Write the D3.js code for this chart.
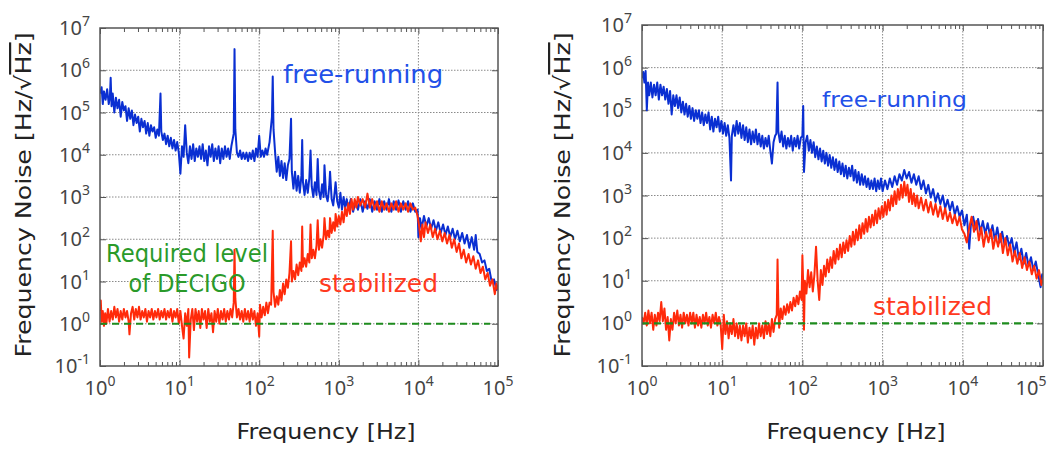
<!DOCTYPE html>
<html>
<head>
<meta charset="utf-8">
<script src="https://cdn.jsdelivr.net/npm/d3@7"></script>
<style>
body{margin:0;background:#fff}
svg{font-family:"DejaVu Sans",sans-serif}
</style>
</head>
<body>
<svg width="1051" height="450"></svg>
<script>
// values, as [log10 f (Hz), log10 noise (Hz/rtHz)]
const leftFree = [[0,5.45],[0.02,5.6],[0.035,5.2],[0.05,5.5],[0.07,5.3],[0.09,5.55],[0.11,5.2],[0.125,5.4],[0.134,5.82],[0.145,5.15],[0.16,5.45],[0.18,5.0],[0.2,5.35],[0.22,5.1],[0.24,5.3],[0.26,4.9],[0.28,5.25],[0.3,5.05],[0.32,5.15],[0.34,4.8],[0.36,5.1],[0.38,4.85],[0.4,5.05],[0.42,4.7],[0.44,4.95],[0.46,4.75],[0.48,4.9],[0.5,4.55],[0.52,4.85],[0.54,4.65],[0.56,4.8],[0.58,4.5],[0.6,4.75],[0.62,4.45],[0.64,4.7],[0.66,4.55],[0.68,4.65],[0.7,4.4],[0.72,4.6],[0.74,4.45],[0.76,5.45],[0.77,4.55],[0.79,4.35],[0.81,4.5],[0.83,4.25],[0.85,4.45],[0.87,4.2],[0.89,4.4],[0.91,4.15],[0.93,4.35],[0.95,4.1],[0.97,4.3],[0.99,4.05],[1.01,3.55],[1.03,4.2],[1.05,3.95],[1.07,4.7],[1.09,4.05],[1.11,3.8],[1.13,4.2],[1.15,3.9],[1.17,4.25],[1.19,3.85],[1.21,4.15],[1.23,3.95],[1.25,4.2],[1.27,3.9],[1.29,4.25],[1.31,3.85],[1.33,4.1],[1.35,3.75],[1.37,4.2],[1.39,3.95],[1.41,4.25],[1.43,3.85],[1.45,4.15],[1.47,3.9],[1.49,4.2],[1.51,3.8],[1.53,4.15],[1.55,3.9],[1.57,4.2],[1.59,3.95],[1.61,4.15],[1.63,3.9],[1.65,4.2],[1.68,4.5],[1.69,6.5],[1.7,4.6],[1.72,4.05],[1.74,3.95],[1.76,4.1],[1.78,3.9],[1.8,4.05],[1.82,3.9],[1.84,4.05],[1.86,3.85],[1.88,4.05],[1.9,3.9],[1.92,4.1],[1.94,3.85],[1.96,4.15],[1.98,3.95],[2,4.45],[2.02,3.95],[2.04,4.1],[2.06,3.95],[2.08,4.15],[2.1,4],[2.13,4.3],[2.16,4.9],[2.17,5.85],[2.18,4.6],[2.2,4.05],[2.22,3.6],[2.24,3.95],[2.26,3.5],[2.28,3.85],[2.3,3.45],[2.32,3.8],[2.34,3.4],[2.36,3.75],[2.38,3.9],[2.4,4.85],[2.41,3.6],[2.43,3.2],[2.45,3.6],[2.47,3.15],[2.49,3.5],[2.51,3.1],[2.53,3.5],[2.54,4.35],[2.55,3.35],[2.57,3.05],[2.59,3.4],[2.61,3.1],[2.63,3.45],[2.645,4.1],[2.66,3.25],[2.68,3.0],[2.7,3.35],[2.72,3.05],[2.735,3.9],[2.75,3.15],[2.77,2.95],[2.79,3.3],[2.81,3.0],[2.82,3.75],[2.84,3.05],[2.86,2.9],[2.88,3.25],[2.89,3.6],[2.91,2.95],[2.93,2.8],[2.95,3.15],[2.96,3.35],[2.98,2.9],[3,2.75],[3.02,3.1],[3.04,2.7],[3.06,3.0],[3.08,2.75],[3.1,2.95],[3.12,2.7],[3.15,2.95],[3.18,2.65],[3.21,2.9],[3.24,2.7],[3.27,2.95],[3.3,2.65],[3.33,2.9],[3.36,2.72],[3.39,2.95],[3.42,2.65],[3.45,2.9],[3.48,2.7],[3.51,2.95],[3.54,2.65],[3.57,2.9],[3.6,2.7],[3.63,2.95],[3.66,2.65],[3.69,2.9],[3.72,2.7],[3.75,2.92],[3.78,2.65],[3.81,2.9],[3.84,2.7],[3.87,2.9],[3.9,2.65],[3.93,2.85],[3.96,2.65],[3.99,2.7],[4,2.05],[4.02,2.5],[4.04,2.25],[4.07,2.55],[4.1,2.3],[4.13,2.5],[4.16,2.25],[4.19,2.45],[4.22,2.2],[4.25,2.4],[4.28,2.15],[4.31,2.35],[4.34,2.1],[4.37,2.3],[4.4,2.05],[4.43,2.25],[4.46,2.0],[4.49,2.2],[4.52,1.95],[4.55,2.15],[4.58,1.9],[4.61,2.1],[4.64,1.8],[4.67,2.05],[4.7,1.75],[4.72,2.1],[4.74,1.7],[4.77,1.65],[4.8,1.45],[4.83,1.5],[4.86,1.25],[4.89,1.3],[4.92,1.0],[4.95,1.05],[4.98,0.8],[5,0.9]];

const leftStab = [[0,0.3],[0.01,0.55],[0.02,0.05],[0.035,0.3],[0.05,-0.05],[0.065,0.25],[0.08,0],[0.1,0.35],[0.12,0.05],[0.14,0.3],[0.16,0.1],[0.18,0.4],[0.2,0.15],[0.22,0.35],[0.24,0.05],[0.26,0.3],[0.28,0.1],[0.3,0.35],[0.32,0.15],[0.34,0.3],[0.36,0.05],[0.37,-0.25],[0.39,0.25],[0.41,0.4],[0.43,0.1],[0.45,0.35],[0.47,0.15],[0.49,0.4],[0.51,0.1],[0.53,0.3],[0.55,0.15],[0.57,0.35],[0.59,0.05],[0.61,0.3],[0.63,0.15],[0.65,0.35],[0.67,0.1],[0.69,0.3],[0.71,0.15],[0.73,0.35],[0.75,0.1],[0.77,0.3],[0.79,0.15],[0.81,0.35],[0.83,0.1],[0.85,0.3],[0.87,0.15],[0.89,0.35],[0.91,0.05],[0.93,0.3],[0.95,0.15],[0.97,0.35],[0.99,0],[1.01,0.3],[1.03,-0.05],[1.05,-0.35],[1.07,0.25],[1.09,-0.05],[1.11,0.35],[1.12,-0.8],[1.14,0.1],[1.16,0.35],[1.18,-0.15],[1.2,0.35],[1.22,0.05],[1.24,0.3],[1.26,-0.1],[1.28,0.35],[1.3,0.1],[1.32,0.3],[1.34,-0.1],[1.36,0.35],[1.38,0.05],[1.4,0.25],[1.42,-0.2],[1.44,0.3],[1.46,0.05],[1.48,0.35],[1.5,0],[1.52,0.3],[1.54,0.1],[1.56,0.35],[1.58,0.05],[1.6,0.3],[1.62,0.1],[1.64,0.35],[1.66,0.15],[1.68,0.5],[1.69,1.75],[1.7,0.6],[1.72,0.15],[1.74,0.35],[1.76,0.1],[1.78,0.3],[1.8,0.05],[1.82,0.35],[1.84,0.1],[1.86,0.3],[1.88,0.05],[1.9,0.35],[1.92,0.1],[1.94,0.3],[1.96,-0.05],[1.98,0.25],[2,-0.3],[2.01,0.45],[2.03,0.15],[2.05,0.4],[2.07,0.2],[2.09,0.5],[2.11,0.25],[2.13,0.5],[2.15,0.45],[2.17,2.2],[2.18,0.75],[2.2,0.4],[2.22,0.65],[2.24,0.45],[2.26,0.8],[2.28,0.55],[2.3,0.95],[2.32,0.7],[2.34,1.05],[2.36,0.85],[2.38,1.2],[2.4,1.95],[2.41,1],[2.43,1.25],[2.45,1.05],[2.47,1.4],[2.49,1.15],[2.51,1.45],[2.53,1.25],[2.54,2.3],[2.55,1.35],[2.57,1.55],[2.59,1.35],[2.61,1.65],[2.63,1.45],[2.645,2.35],[2.66,1.55],[2.68,1.75],[2.7,1.55],[2.72,1.85],[2.735,2.45],[2.75,1.75],[2.77,2],[2.79,1.8],[2.81,2.1],[2.82,2.5],[2.84,2],[2.86,2.2],[2.88,2.05],[2.89,2.5],[2.91,2.15],[2.93,2.4],[2.95,2.2],[2.96,2.6],[2.98,2.3],[3,2.55],[3.02,2.35],[3.04,2.65],[3.06,2.4],[3.08,2.75],[3.1,2.55],[3.12,2.85],[3.14,2.6],[3.16,2.95],[3.18,2.7],[3.2,2.95],[3.22,2.75],[3.24,3],[3.27,2.8],[3.3,2.95],[3.33,2.75],[3.36,3.08],[3.39,2.75],[3.42,2.95],[3.45,2.7],[3.48,2.9],[3.51,2.65],[3.54,2.9],[3.57,2.7],[3.6,2.85],[3.63,2.65],[3.66,2.85],[3.69,2.7],[3.72,2.9],[3.75,2.65],[3.78,2.85],[3.81,2.7],[3.84,2.85],[3.87,2.65],[3.9,2.85],[3.93,2.7],[3.96,2.75],[3.99,2.55],[4.01,2.3],[4.03,1.95],[4.05,2.35],[4.07,2.05],[4.09,2.4],[4.12,2.15],[4.15,2.35],[4.18,2.05],[4.21,2.25],[4.24,2],[4.27,2.2],[4.3,1.95],[4.33,2.15],[4.36,1.9],[4.39,2.1],[4.42,1.8],[4.45,2],[4.48,1.7],[4.51,1.9],[4.54,1.55],[4.57,1.75],[4.6,1.45],[4.63,1.65],[4.66,1.4],[4.69,1.6],[4.72,1.3],[4.75,1.5],[4.78,1.2],[4.81,1.35],[4.84,1.05],[4.87,1.2],[4.9,0.9],[4.93,1.05],[4.96,0.7],[4.98,0.95],[5,0.8]];

const rightFree = [[0,5.75],[0.015,5.9],[0.03,5.65],[0.045,5.92],[0.06,5],[0.075,5.65],[0.09,5.35],[0.11,5.65],[0.13,5.3],[0.15,5.6],[0.17,5.35],[0.19,5.65],[0.21,5.25],[0.23,5.6],[0.25,5.35],[0.27,5.55],[0.29,5.25],[0.31,5.5],[0.33,5.15],[0.35,5.45],[0.37,4.9],[0.39,5.35],[0.41,5.1],[0.43,5.35],[0.45,5.05],[0.47,5.3],[0.49,4.95],[0.51,5.2],[0.53,4.9],[0.55,5.15],[0.57,4.85],[0.59,5.1],[0.61,4.8],[0.63,5.05],[0.65,4.75],[0.67,5],[0.69,4.8],[0.71,5],[0.73,4.7],[0.75,4.95],[0.77,4.65],[0.79,4.9],[0.81,4.7],[0.83,4.95],[0.85,4.55],[0.87,4.85],[0.89,4.5],[0.91,4.8],[0.93,4.6],[0.95,4.85],[0.97,4.5],[0.99,4.75],[1.01,4.45],[1.03,4.7],[1.05,4.4],[1.07,4.65],[1.09,4.35],[1.11,3.35],[1.12,4.4],[1.14,4.65],[1.16,4.4],[1.18,4.75],[1.2,4.45],[1.22,4.7],[1.24,4.35],[1.26,4.65],[1.28,4.3],[1.3,4.6],[1.32,4.25],[1.34,4.55],[1.36,4.2],[1.38,4.5],[1.4,4.25],[1.42,4.55],[1.44,4.2],[1.46,4.45],[1.48,4.15],[1.5,4.4],[1.52,4.1],[1.54,4.35],[1.56,4.15],[1.58,4.4],[1.6,4.05],[1.62,3.75],[1.64,4.25],[1.66,4.4],[1.675,4.45],[1.69,5.65],[1.7,4.5],[1.72,4.25],[1.74,4.5],[1.76,4.15],[1.78,4.4],[1.8,4.1],[1.82,4.35],[1.84,4.15],[1.86,4.4],[1.88,4.05],[1.9,4.35],[1.92,4.15],[1.94,4.4],[1.96,4.1],[1.98,4.35],[2,4.4],[2.01,5.1],[2.02,3.55],[2.04,4.25],[2.06,4.4],[2.08,4.05],[2.1,4.3],[2.12,4],[2.14,4.25],[2.16,3.9],[2.18,4.15],[2.2,3.85],[2.22,4.1],[2.24,3.8],[2.26,4.05],[2.28,3.75],[2.3,4],[2.32,3.7],[2.34,3.95],[2.36,3.65],[2.38,3.9],[2.4,3.6],[2.42,3.85],[2.44,3.55],[2.46,3.8],[2.48,3.5],[2.5,3.75],[2.52,3.45],[2.54,3.7],[2.56,3.4],[2.58,3.65],[2.6,3.45],[2.62,3.7],[2.64,3.35],[2.66,3.6],[2.68,3.3],[2.7,3.55],[2.72,3.25],[2.74,3.5],[2.76,3.25],[2.78,3.45],[2.8,3.2],[2.82,3.4],[2.84,3.15],[2.86,3.35],[2.88,3.15],[2.9,3.4],[2.92,3.1],[2.94,3.35],[2.96,3.15],[2.98,3.4],[3,3.1],[3.03,3.35],[3.06,3.15],[3.09,3.4],[3.12,3.2],[3.15,3.45],[3.18,3.25],[3.21,3.5],[3.24,3.35],[3.27,3.6],[3.3,3.4],[3.33,3.55],[3.36,3.3],[3.39,3.5],[3.42,3.25],[3.45,3.45],[3.48,3.15],[3.51,3.35],[3.54,3.05],[3.57,3.25],[3.6,2.95],[3.63,3.15],[3.66,2.85],[3.69,3.05],[3.72,2.8],[3.75,3],[3.78,2.7],[3.81,2.9],[3.84,2.65],[3.87,2.85],[3.9,2.55],[3.93,2.75],[3.96,2.5],[3.99,2.65],[4.02,2.3],[4.05,2.55],[4.08,1.75],[4.1,2.3],[4.13,2.5],[4.16,2.2],[4.19,2.45],[4.22,2.15],[4.25,2.4],[4.28,2.1],[4.31,2.35],[4.34,2.05],[4.37,2.3],[4.4,1.95],[4.43,2.25],[4.46,1.9],[4.49,2.15],[4.52,1.85],[4.55,2.05],[4.58,1.8],[4.61,2],[4.64,1.65],[4.67,1.9],[4.7,1.5],[4.73,1.75],[4.76,1.4],[4.79,1.65],[4.82,1.35],[4.85,1.55],[4.88,1.25],[4.91,1.45],[4.94,1.15],[4.97,0.85],[4.99,1.15],[5.01,1]];

const rightStab = [[0,0.15],[0.02,0],[0.04,0.25],[0.06,-0.05],[0.08,0.3],[0.1,0],[0.12,0.25],[0.14,-0.15],[0.16,0.2],[0.18,-0.05],[0.2,0.25],[0.22,0.05],[0.24,0.5],[0.26,0.05],[0.28,0.35],[0.3,-0.15],[0.32,0.15],[0.34,-0.4],[0.36,0.1],[0.38,-0.15],[0.4,0.25],[0.42,0],[0.44,0.3],[0.46,-0.05],[0.48,0.2],[0.5,-0.1],[0.52,0.25],[0.54,0],[0.56,0.2],[0.58,-0.05],[0.6,0.25],[0.62,0],[0.64,0.25],[0.66,-0.1],[0.68,0.2],[0.7,-0.05],[0.72,0.15],[0.74,-0.1],[0.76,0.2],[0.78,0],[0.8,0.25],[0.82,-0.05],[0.84,0.15],[0.86,-0.1],[0.88,0.2],[0.9,0],[0.92,0.25],[0.94,-0.05],[0.96,0.15],[0.98,0],[1,-0.6],[1.02,0.2],[1.04,-0.25],[1.06,0.05],[1.08,-0.35],[1.1,0],[1.12,-0.25],[1.14,0.1],[1.16,-0.3],[1.18,0],[1.2,-0.35],[1.22,-0.05],[1.24,-0.4],[1.26,-0.05],[1.28,-0.3],[1.3,0],[1.32,-0.45],[1.34,-0.1],[1.36,-0.35],[1.38,-0.05],[1.4,-0.5],[1.42,-0.1],[1.44,-0.35],[1.46,0],[1.48,-0.3],[1.5,-0.05],[1.52,-0.35],[1.54,0.05],[1.56,-0.25],[1.58,0],[1.6,-0.3],[1.62,0.1],[1.64,-0.2],[1.66,0.1],[1.68,0.2],[1.69,1.5],[1.7,0.4],[1.71,-0.1],[1.73,0.35],[1.75,0.1],[1.77,0.4],[1.79,0.2],[1.81,0.45],[1.83,0.25],[1.85,0.5],[1.87,0.3],[1.89,0.6],[1.91,0.4],[1.93,0.65],[1.95,0.45],[1.97,0.75],[1.99,0.55],[2,1.6],[2.01,0.9],[2.02,-0.15],[2.03,1],[2.05,0.7],[2.07,1.25],[2.09,0.85],[2.11,1.2],[2.13,0.75],[2.15,1.15],[2.17,1.8],[2.19,1],[2.21,0.55],[2.23,1.25],[2.25,0.9],[2.27,1.35],[2.29,1.1],[2.31,1.5],[2.33,1.2],[2.35,1.55],[2.37,1.3],[2.39,1.7],[2.41,1.4],[2.43,1.75],[2.45,1.5],[2.47,1.85],[2.49,1.55],[2.51,1.9],[2.53,1.65],[2.55,1.95],[2.57,1.7],[2.59,2.05],[2.61,1.8],[2.63,2.15],[2.65,1.85],[2.67,2.2],[2.69,1.95],[2.71,2.3],[2.73,2],[2.75,2.35],[2.77,2.1],[2.79,2.45],[2.81,2.15],[2.83,2.5],[2.85,2.25],[2.87,2.55],[2.89,2.3],[2.91,2.65],[2.93,2.35],[2.95,2.7],[2.97,2.45],[2.99,2.75],[3.01,2.5],[3.03,2.85],[3.05,2.55],[3.07,2.9],[3.09,2.65],[3.11,3],[3.13,2.75],[3.15,3.1],[3.17,2.8],[3.19,3.15],[3.21,2.9],[3.23,3.25],[3.25,2.95],[3.27,3.32],[3.29,3],[3.31,3.25],[3.33,2.85],[3.35,3.15],[3.37,2.8],[3.39,3.05],[3.41,2.75],[3.43,3],[3.45,2.7],[3.48,2.95],[3.51,2.65],[3.54,2.9],[3.57,2.6],[3.6,2.85],[3.63,2.55],[3.66,2.8],[3.69,2.5],[3.72,2.75],[3.75,2.45],[3.78,2.7],[3.81,2.4],[3.84,2.6],[3.87,2.35],[3.9,2.55],[3.93,2.3],[3.96,2.5],[3.99,2.2],[4.02,2.1],[4.05,1.9],[4.08,2.25],[4.11,2.5],[4.14,2.15],[4.17,2.4],[4.2,1.95],[4.23,2.25],[4.26,1.8],[4.29,2.15],[4.32,1.9],[4.35,2.2],[4.38,1.75],[4.41,2.05],[4.44,1.8],[4.47,2.1],[4.5,1.65],[4.53,2],[4.56,1.6],[4.59,1.85],[4.62,1.45],[4.65,1.7],[4.68,1.4],[4.71,1.65],[4.74,1.3],[4.77,1.55],[4.8,1.25],[4.83,1.45],[4.86,1.15],[4.89,1.35],[4.92,1.05],[4.95,1.25],[4.98,0.9],[5.01,1.1]];

// DECIGO requirement (dashed), [log10 f, log10 noise]
const reqLeft = [[0,0],[4.9,0]];
const reqRight = [[0,0],[4.94,0]];

const xDecades = [1e0,1e1,1e2,1e3,1e4,1e5];
const yDecades = [1e-1,1e0,1e1,1e2,1e3,1e4,1e5,1e6,1e7];

// annotation anchors in data units: [f, noise]
const panels = [
  {x0:100, x1:498, y0:28, y1:366, free:leftFree, stab:leftStab, req:reqLeft,
   freeLbl:[200,10**5.7], freeW:160, stabLbl:[565,10**0.75], reqLbl:[12.4,10**1.46],
   yTitleX:31, xTitleX:326, lblMaxX:500},
  {x0:642, x1:1043, y0:25, y1:366, free:rightFree, stab:rightStab, req:reqRight,
   freeLbl:[175,10**5.08], freeW:145, stabLbl:[760,10**0.19], reqLbl:null,
   yTitleX:570, xTitleX:856, lblMaxX:1031}
];

const svg = d3.select('svg');
const blue = '#0a2fd2', red = '#ff2a0a', green = '#1e8c1e';

panels.forEach((p,i)=>{
  const x = d3.scaleLog().domain([1,1e5]).range([p.x0,p.x1]);
  const y = d3.scaleLog().domain([0.1,1e7]).range([p.y1,p.y0]);
  const g = svg.append('g');

  // grid
  g.selectAll('.gx').data(xDecades.slice(1,-1)).enter().append('line')
    .attr('x1',d=>x(d)).attr('x2',d=>x(d)).attr('y1',p.y0).attr('y2',p.y1)
    .attr('stroke','#8a8a8a').attr('stroke-width',1).attr('stroke-dasharray','1.5,1.5');
  g.selectAll('.gy').data(yDecades.slice(1,-1)).enter().append('line')
    .attr('y1',d=>y(d)).attr('y2',d=>y(d)).attr('x1',p.x0).attr('x2',p.x1)
    .attr('stroke','#8a8a8a').attr('stroke-width',1).attr('stroke-dasharray','1.5,1.5');

  // ticks inside the frame
  const minor = x.ticks().filter(d=>!xDecades.includes(d));
  const noDomain = s=>s.selectAll('path').remove();
  g.append('g').attr('transform',`translate(0,${p.y0})`)
    .call(d3.axisBottom(x).tickValues(minor).tickSize(4).tickFormat('')).call(noDomain);
  g.append('g').attr('transform',`translate(0,${p.y1})`)
    .call(d3.axisTop(x).tickValues(minor).tickSize(4).tickFormat('')).call(noDomain);
  g.append('g').attr('transform',`translate(0,${p.y0})`)
    .call(d3.axisBottom(x).tickValues(xDecades).tickSize(6).tickFormat('')).call(noDomain);
  g.append('g').attr('transform',`translate(0,${p.y1})`)
    .call(d3.axisTop(x).tickValues(xDecades).tickSize(6).tickFormat('')).call(noDomain);
  g.append('g').attr('transform',`translate(${p.x0},0)`)
    .call(d3.axisRight(y).tickValues(yDecades).tickSize(6).tickFormat('')).call(noDomain);
  g.append('g').attr('transform',`translate(${p.x1},0)`)
    .call(d3.axisLeft(y).tickValues(yDecades).tickSize(6).tickFormat('')).call(noDomain);
  g.selectAll('.tick line').attr('stroke','#555').attr('stroke-width',1);

  // clip
  svg.append('clipPath').attr('id','clip'+i).append('rect')
    .attr('x',p.x0).attr('y',p.y0).attr('width',p.x1-p.x0).attr('height',p.y1-p.y0);

  const line = d3.line().x(d=>x(10**d[0])).y(d=>y(10**d[1]));
  const plot = g.append('g').attr('clip-path',`url(#clip${i})`);
  plot.append('path').datum(p.free).attr('d',line)
    .attr('fill','none').attr('stroke',blue).attr('stroke-width',2).attr('stroke-linejoin','round');
  plot.append('path').datum(p.stab).attr('d',line)
    .attr('fill','none').attr('stroke',red).attr('stroke-width',2).attr('stroke-linejoin','round');
  plot.append('path').datum(p.req).attr('d',line)
    .attr('fill','none').attr('stroke',green).attr('stroke-width',2.2).attr('stroke-dasharray','7,5');

  // frame
  g.append('rect').attr('x',p.x0).attr('y',p.y0).attr('width',p.x1-p.x0).attr('height',p.y1-p.y0)
    .attr('fill','none').attr('stroke','#555').attr('stroke-width',1.5);

  // tick labels
  const exp = d=>String(Math.round(Math.log10(d)));
  const xl = g.selectAll('.xl').data(xDecades).enter().append('text')
    .attr('x',d=>Math.min(x(d),p.lblMaxX)).attr('y',p.y1+29).attr('text-anchor','middle')
    .attr('fill','#444').attr('font-family','Noto Sans').attr('font-size',20);
  xl.append('tspan').text('10');
  xl.append('tspan').attr('dy',-9).attr('font-size',14).text(exp);
  const yl = g.selectAll('.yl').data(yDecades).enter().append('text')
    .attr('x',p.x0-10).attr('y',d=>y(d)+7).attr('text-anchor','end')
    .attr('fill','#444').attr('font-family','Noto Sans').attr('font-size',20);
  yl.append('tspan').text('10');
  yl.append('tspan').attr('dy',-9).attr('font-size',14).text(exp);

  // axis titles
  g.append('text').attr('x',p.xTitleX).attr('y',439).attr('text-anchor','middle')
    .attr('font-size',21).attr('fill','#222')
    .attr('textLength',179).attr('lengthAdjust','spacingAndGlyphs').text('Frequency [Hz]');
  const yt = g.append('text').attr('transform',`translate(${p.yTitleX},195) rotate(-90)`)
    .attr('text-anchor','middle').attr('font-size',22).attr('fill','#222')
    .attr('textLength',325).attr('lengthAdjust','spacingAndGlyphs');
  yt.append('tspan').text('Frequency Noise [Hz/\u221A');
  yt.append('tspan').attr('text-decoration','overline').text('Hz');
  yt.append('tspan').text(']');

  // annotations
  g.append('text').attr('x',x(p.freeLbl[0])).attr('y',y(p.freeLbl[1]))
    .attr('font-size',i===0?24:22).attr('fill','#2250e8')
    .attr('textLength',p.freeW).attr('lengthAdjust','spacingAndGlyphs').text('free-running');
  g.append('text').attr('x',x(p.stabLbl[0])).attr('y',y(p.stabLbl[1]))
    .attr('font-size',24).attr('fill','#ff3a1e')
    .attr('textLength',119).attr('lengthAdjust','spacingAndGlyphs').text('stabilized');
  if(p.reqLbl){
    const cx = x(p.reqLbl[0]), by = y(p.reqLbl[1]);
    g.append('text').attr('x',cx).attr('y',by).attr('text-anchor','middle')
      .attr('font-size',24).attr('fill','#2a9a2a')
      .attr('textLength',162).attr('lengthAdjust','spacingAndGlyphs').text('Required level');
    g.append('text').attr('x',cx).attr('y',by+30).attr('text-anchor','middle')
      .attr('font-size',24).attr('fill','#2a9a2a')
      .attr('textLength',117).attr('lengthAdjust','spacingAndGlyphs').text('of DECIGO');
  }
});
</script>
</body>
</html>
